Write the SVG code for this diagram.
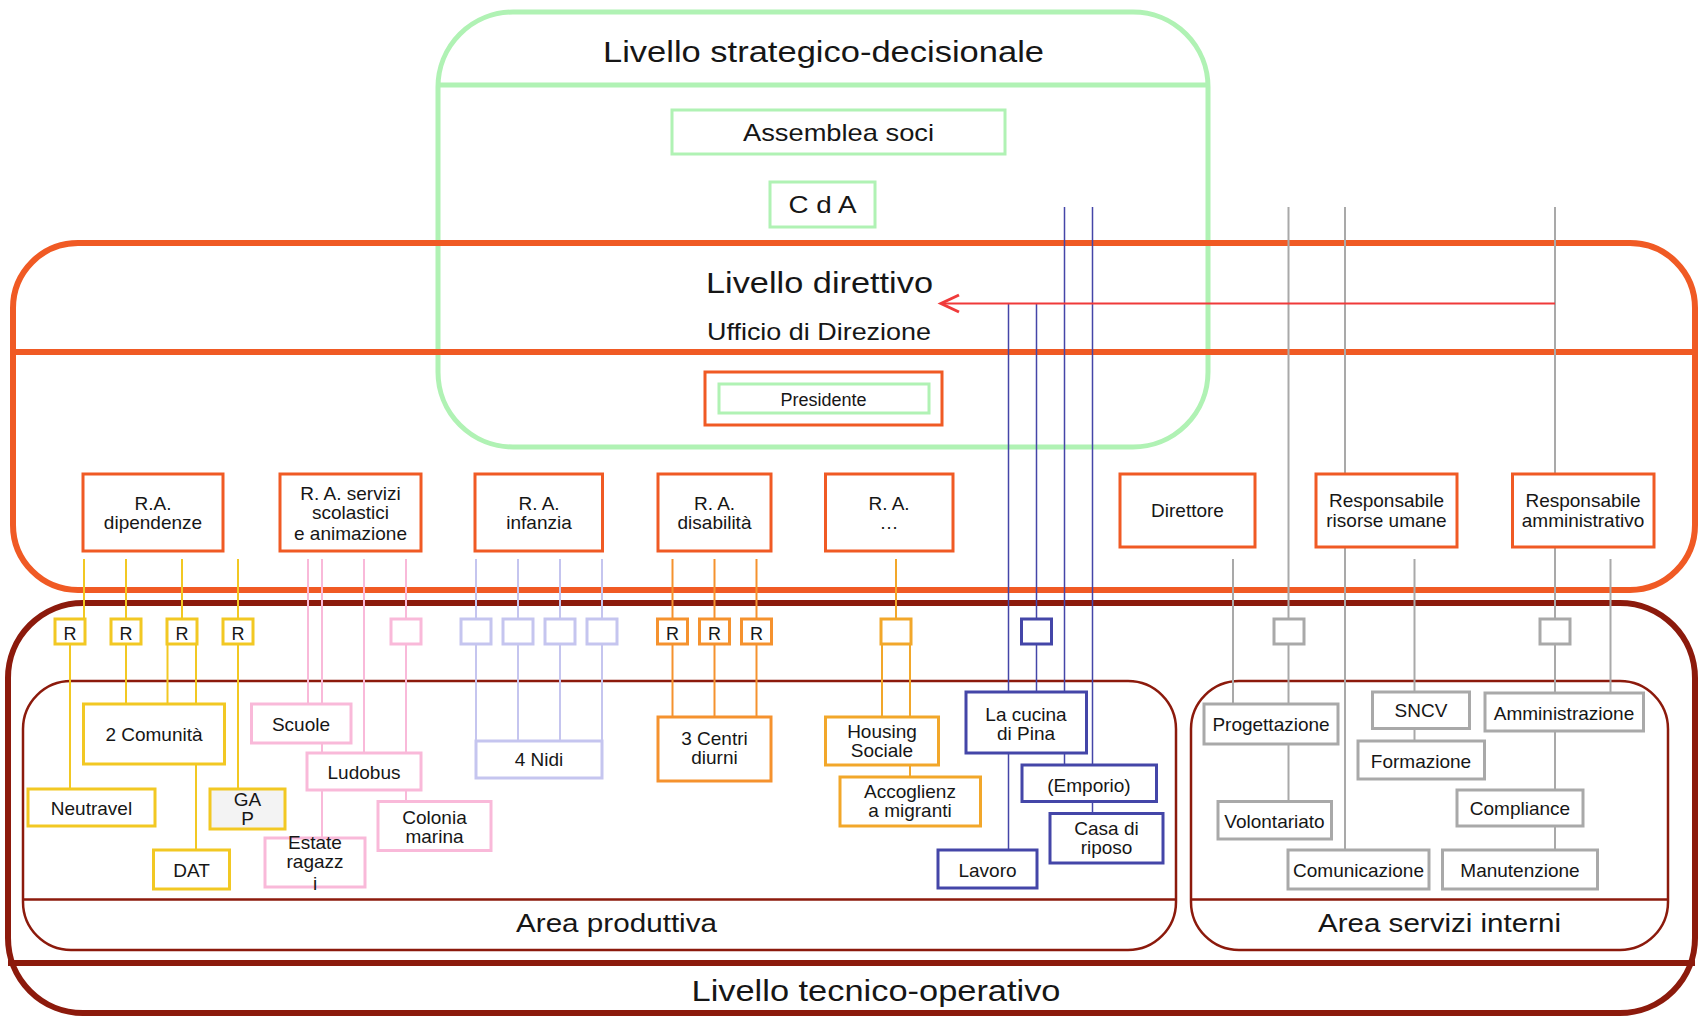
<svg xmlns="http://www.w3.org/2000/svg" width="1700" height="1017" viewBox="0 0 1700 1017">
<style>
.t{font-family:"Liberation Sans",Arial,sans-serif;fill:#161616;text-anchor:middle}
.s{font-size:19px}
.m{font-size:24px}
.l{font-size:30px}
.bx{fill:#fff;stroke-width:3}
.g{stroke:#b0f2b4}
.o{stroke:#f05a24}
.ye{stroke:#f2c823}
.pk{stroke:#f9b9d9}
.lv{stroke:#c5c5ef}
.od{stroke:#f5922e}
.am{stroke:#f2a72a}
.bl{stroke:#4446a8}
.gr{stroke:#a9a9a9}
.cn line{stroke-width:2}
.cn .bl{stroke-width:1.5}
</style>
<defs>
<marker id="chev" markerWidth="24" markerHeight="24" refX="20" refY="12" orient="auto" markerUnits="userSpaceOnUse">
<path d="M2,3.5 L20,12 L2,20.5" fill="none" stroke="#f03a3a" stroke-width="3"/>
</marker>
</defs>
<rect width="1700" height="1017" fill="#fff"/>

<g id="livello-strategico">
<rect x="438" y="12" width="770" height="435" rx="75" fill="none" stroke="#b0f2b4" stroke-width="5"/>
<line x1="438" y1="85" x2="1208" y2="85" stroke="#b0f2b4" stroke-width="5"/>
<text class="t l" x="823.5" y="62" textLength="441" lengthAdjust="spacingAndGlyphs">Livello strategico-decisionale</text>
</g>

<g id="livello-direttivo">
<rect x="13" y="243" width="1682" height="347" rx="65" fill="none" stroke="#f05a24" stroke-width="6"/>
<line x1="13" y1="352" x2="1695" y2="352" stroke="#f05a24" stroke-width="6"/>
<text class="t l" x="819.5" y="293" textLength="227" lengthAdjust="spacingAndGlyphs">Livello direttivo</text>
<text class="t m" x="819" y="340" textLength="224" lengthAdjust="spacingAndGlyphs">Ufficio di Direzione</text>
</g>

<g id="livello-tecnico">
<rect x="8" y="603" width="1687" height="410" rx="75" fill="none" stroke="#8c1a0c" stroke-width="6"/>
<line x1="8" y1="963" x2="1695" y2="963" stroke="#8c1a0c" stroke-width="6"/>
<text class="t l" x="876" y="1000.5" textLength="369" lengthAdjust="spacingAndGlyphs">Livello tecnico-operativo</text>
</g>

<g id="area-produttiva">
<rect x="23" y="681" width="1153" height="269" rx="48" fill="none" stroke="#8c1a0c" stroke-width="2.5"/>
<line x1="23" y1="899.5" x2="1176" y2="899.5" stroke="#8c1a0c" stroke-width="2.5"/>
<text class="t" style="font-size:26px" x="616.5" y="931.5" textLength="201" lengthAdjust="spacingAndGlyphs">Area produttiva</text>
</g>

<g id="area-servizi">
<rect x="1191" y="681" width="477" height="269" rx="48" fill="none" stroke="#8c1a0c" stroke-width="2.5"/>
<line x1="1191" y1="899.5" x2="1668" y2="899.5" stroke="#8c1a0c" stroke-width="2.5"/>
<text class="t" style="font-size:26px" x="1439.5" y="931.5" textLength="243" lengthAdjust="spacingAndGlyphs">Area servizi interni</text>
</g>

<g id="connectors" class="cn">
<line class="ye" x1="84" y1="559" x2="84" y2="619"/>
<line class="ye" x1="70" y1="644" x2="70" y2="789"/>
<line class="ye" x1="126" y1="559" x2="126" y2="619"/>
<line class="ye" x1="126" y1="644" x2="126" y2="704"/>
<line class="ye" x1="182" y1="559" x2="182" y2="619"/>
<line class="ye" x1="167.5" y1="644" x2="167.5" y2="704"/>
<line class="ye" x1="196" y1="644" x2="196" y2="704"/>
<line class="ye" x1="196" y1="764" x2="196" y2="850"/>
<line class="ye" x1="238" y1="559" x2="238" y2="619"/>
<line class="ye" x1="238" y1="644" x2="238" y2="789"/>

<line class="pk" x1="308" y1="559" x2="308" y2="704"/>
<line class="pk" x1="322" y1="559" x2="322" y2="704"/>
<line class="pk" x1="322" y1="743" x2="322" y2="753"/>
<line class="pk" x1="322" y1="790" x2="322" y2="838"/>
<line class="pk" x1="364" y1="559" x2="364" y2="753"/>
<line class="pk" x1="406" y1="559" x2="406" y2="619"/>
<line class="pk" x1="406" y1="644" x2="406" y2="753"/>
<line class="pk" x1="406" y1="790" x2="406" y2="801.5"/>

<line class="lv" x1="476" y1="559" x2="476" y2="619"/>
<line class="lv" x1="476" y1="644" x2="476" y2="741"/>
<line class="lv" x1="518" y1="559" x2="518" y2="619"/>
<line class="lv" x1="518" y1="644" x2="518" y2="741"/>
<line class="lv" x1="560" y1="559" x2="560" y2="619"/>
<line class="lv" x1="560" y1="644" x2="560" y2="741"/>
<line class="lv" x1="602" y1="559" x2="602" y2="619"/>
<line class="lv" x1="602" y1="644" x2="602" y2="741"/>

<line class="od" x1="672.5" y1="559" x2="672.5" y2="619"/>
<line class="od" x1="672.5" y1="644" x2="672.5" y2="717"/>
<line class="od" x1="714.5" y1="559" x2="714.5" y2="619"/>
<line class="od" x1="714.5" y1="644" x2="714.5" y2="717"/>
<line class="od" x1="756.5" y1="559" x2="756.5" y2="619"/>
<line class="od" x1="756.5" y1="644" x2="756.5" y2="717"/>

<line class="am" x1="896" y1="559" x2="896" y2="619"/>
<line class="am" x1="882" y1="644" x2="882" y2="717"/>
<line class="am" x1="910" y1="644" x2="910" y2="717"/>
<line class="am" x1="910" y1="765" x2="910" y2="777"/>

<line class="bl" x1="1008.5" y1="303" x2="1008.5" y2="850"/>
<line class="bl" x1="1036.5" y1="303" x2="1036.5" y2="619"/>
<line class="bl" x1="1036.5" y1="644" x2="1036.5" y2="692"/>
<line class="bl" x1="1064.5" y1="207" x2="1064.5" y2="692"/>
<line class="bl" x1="1064.5" y1="753" x2="1064.5" y2="765"/>
<line class="bl" x1="1092.5" y1="207" x2="1092.5" y2="765"/>
<line class="bl" x1="1092.5" y1="801.5" x2="1092.5" y2="813.5"/>

<line class="gr" x1="1233" y1="559" x2="1233" y2="704"/>
<line class="gr" x1="1288.5" y1="207" x2="1288.5" y2="619"/>
<line class="gr" x1="1288.5" y1="644" x2="1288.5" y2="704"/>
<line class="gr" x1="1288.5" y1="744" x2="1288.5" y2="801.5"/>
<line class="gr" x1="1345" y1="207" x2="1345" y2="850"/>
<line class="gr" x1="1414.5" y1="559" x2="1414.5" y2="692"/>
<line class="gr" x1="1414.5" y1="728.5" x2="1414.5" y2="741"/>
<line class="gr" x1="1555" y1="207" x2="1555" y2="619"/>
<line class="gr" x1="1555" y1="644" x2="1555" y2="693"/>
<line class="gr" x1="1555" y1="731" x2="1555" y2="790"/>
<line class="gr" x1="1555" y1="826" x2="1555" y2="850"/>
<line class="gr" x1="1610.5" y1="559" x2="1610.5" y2="693"/>

<line x1="1555" y1="303.5" x2="941" y2="303.5" stroke="#f03a3a" stroke-width="1.5" marker-end="url(#chev)"/>
</g>

<g id="assemblea-soci"><rect class="bx g" x="672" y="110" width="333" height="44"/><text class="t m" x="838.5" y="141" textLength="191" lengthAdjust="spacingAndGlyphs">Assemblea soci</text></g>
<g id="cda"><rect class="bx g" x="770" y="182" width="105" height="45"/><text class="t m" x="822.5" y="213" textLength="68" lengthAdjust="spacingAndGlyphs">C d A</text></g>
<g id="presidente"><rect class="bx o" x="705" y="372" width="237" height="53"/><rect class="bx g" x="719" y="384" width="210" height="29"/><text class="t" style="font-size:18px" x="823.5" y="405.5">Presidente</text></g>

<g id="ra-dipendenze"><rect class="bx o" x="83" y="474" width="140" height="77"/><text class="t s" x="153" y="509.5">R.A.</text><text class="t s" x="153" y="529">dipendenze</text></g>
<g id="ra-servizi"><rect class="bx o" x="280" y="474" width="141" height="77"/><text class="t s" x="350.5" y="499.5">R. A. servizi</text><text class="t s" x="350.5" y="519">scolastici</text><text class="t s" x="350.5" y="540">e animazione</text></g>
<g id="ra-infanzia"><rect class="bx o" x="475" y="474" width="127.5" height="77"/><text class="t s" x="539" y="509.5">R. A.</text><text class="t s" x="539" y="528.5">infanzia</text></g>
<g id="ra-disabilita"><rect class="bx o" x="658" y="474" width="113" height="77"/><text class="t s" x="714.5" y="509.5">R. A.</text><text class="t s" x="714.5" y="529">disabilità</text></g>
<g id="ra-altro"><rect class="bx o" x="825.5" y="474" width="127.5" height="77"/><text class="t s" x="889" y="509.5">R. A.</text><text class="t s" x="889" y="529">…</text></g>
<g id="direttore"><rect class="bx o" x="1120" y="474" width="135" height="73"/><text class="t s" x="1187.5" y="517">Direttore</text></g>
<g id="resp-risorse-umane"><rect class="bx o" x="1316" y="474" width="141" height="73"/><text class="t s" x="1386.5" y="507">Responsabile</text><text class="t s" x="1386.5" y="526.5">risorse umane</text></g>
<g id="resp-amministrativo"><rect class="bx o" x="1512.5" y="474" width="141.5" height="73"/><text class="t s" x="1583" y="507">Responsabile</text><text class="t s" x="1583" y="526.5">amministrativo</text></g>

<g id="r-dip-1"><rect class="bx ye" x="55" y="619" width="30" height="25"/><text class="t" style="font-size:18px" x="70" y="640">R</text></g>
<g id="r-dip-2"><rect class="bx ye" x="111" y="619" width="30" height="25"/><text class="t" style="font-size:18px" x="126" y="640">R</text></g>
<g id="r-dip-3"><rect class="bx ye" x="167" y="619" width="30" height="25"/><text class="t" style="font-size:18px" x="182" y="640">R</text></g>
<g id="r-dip-4"><rect class="bx ye" x="223" y="619" width="30" height="25"/><text class="t" style="font-size:18px" x="238" y="640">R</text></g>
<g id="comunita"><rect class="bx ye" x="83.5" y="704" width="141" height="60"/><text class="t s" x="154" y="741">2 Comunità</text></g>
<g id="neutravel"><rect class="bx ye" x="28" y="789" width="127" height="37"/><text class="t s" x="91.5" y="815">Neutravel</text></g>
<g id="gap"><rect class="bx ye" x="210" y="789" width="75" height="40" style="fill:#f3f3f3"/><text class="t s" x="247.5" y="806">GA</text><text class="t s" x="247.5" y="825">P</text></g>
<g id="dat"><rect class="bx ye" x="153.5" y="850" width="76" height="39"/><text class="t s" x="191.5" y="877">DAT</text></g>

<g id="box-servizi"><rect class="bx pk" x="391" y="619" width="30" height="25"/></g>
<g id="scuole"><rect class="bx pk" x="251.5" y="704" width="99.5" height="39"/><text class="t s" x="301" y="731">Scuole</text></g>
<g id="ludobus"><rect class="bx pk" x="307" y="753" width="114" height="37"/><text class="t s" x="364" y="779">Ludobus</text></g>
<g id="colonia-marina"><rect class="bx pk" x="378" y="801.5" width="113" height="49"/><text class="t s" x="434.5" y="823.5">Colonia</text><text class="t s" x="434.5" y="843">marina</text></g>
<g id="estate-ragazzi"><rect class="bx pk" x="265" y="838" width="100" height="49"/><text class="t s" x="315" y="848.5">Estate</text><text class="t s" x="315" y="868">ragazz</text><text class="t s" x="315" y="889.5">i</text></g>

<g id="box-inf-1"><rect class="bx lv" x="461" y="619" width="30" height="25"/></g>
<g id="box-inf-2"><rect class="bx lv" x="503" y="619" width="30" height="25"/></g>
<g id="box-inf-3"><rect class="bx lv" x="545" y="619" width="30" height="25"/></g>
<g id="box-inf-4"><rect class="bx lv" x="587" y="619" width="30" height="25"/></g>
<g id="nidi"><rect class="bx lv" x="476" y="741" width="126" height="37"/><text class="t s" x="539" y="766">4 Nidi</text></g>

<g id="r-dis-1"><rect class="bx od" x="657.5" y="619" width="30" height="25"/><text class="t" style="font-size:18px" x="672.5" y="640">R</text></g>
<g id="r-dis-2"><rect class="bx od" x="699.5" y="619" width="30" height="25"/><text class="t" style="font-size:18px" x="714.5" y="640">R</text></g>
<g id="r-dis-3"><rect class="bx od" x="741.5" y="619" width="30" height="25"/><text class="t" style="font-size:18px" x="756.5" y="640">R</text></g>
<g id="centri-diurni"><rect class="bx od" x="658" y="717" width="113" height="64"/><text class="t s" x="714.5" y="745">3 Centri</text><text class="t s" x="714.5" y="764">diurni</text></g>

<g id="box-altro"><rect class="bx am" x="881" y="619" width="30" height="25"/></g>
<g id="housing-sociale"><rect class="bx am" x="825.5" y="717" width="113" height="48"/><text class="t s" x="882" y="737.5">Housing</text><text class="t s" x="882" y="757">Sociale</text></g>
<g id="accoglienza-migranti"><rect class="bx am" x="840" y="777" width="140.5" height="49"/><text class="t s" x="910" y="798">Accoglienz</text><text class="t s" x="910" y="817">a migranti</text></g>

<g id="box-cucina"><rect class="bx bl" x="1021.5" y="619" width="30" height="25"/></g>
<g id="cucina-pina"><rect class="bx bl" x="966" y="692" width="120.5" height="61"/><text class="t s" x="1026" y="720.5">La cucina</text><text class="t s" x="1026" y="739.5">di Pina</text></g>
<g id="emporio"><rect class="bx bl" x="1022" y="765" width="134.5" height="36.5"/><text class="t s" x="1089" y="792">(Emporio)</text></g>
<g id="casa-riposo"><rect class="bx bl" x="1050" y="813.5" width="113" height="49.5"/><text class="t s" x="1106.5" y="835">Casa di</text><text class="t s" x="1106.5" y="854">riposo</text></g>
<g id="lavoro"><rect class="bx bl" x="938" y="850" width="99" height="38"/><text class="t s" x="987.5" y="877">Lavoro</text></g>

<g id="box-prog"><rect class="bx gr" x="1274" y="619" width="30" height="25"/></g>
<g id="box-amm"><rect class="bx gr" x="1540" y="619" width="30" height="25"/></g>
<g id="progettazione"><rect class="bx gr" x="1204" y="704" width="134" height="40"/><text class="t s" x="1271" y="731">Progettazione</text></g>
<g id="volontariato"><rect class="bx gr" x="1218" y="801.5" width="113.5" height="37.5"/><text class="t s" x="1274.5" y="828">Volontariato</text></g>
<g id="comunicazione"><rect class="bx gr" x="1288" y="850" width="141" height="39"/><text class="t s" x="1358.5" y="877">Comunicazione</text></g>
<g id="sncv"><rect class="bx gr" x="1372.5" y="692" width="97" height="36.5"/><text class="t s" x="1421" y="717">SNCV</text></g>
<g id="formazione"><rect class="bx gr" x="1358" y="741" width="126.5" height="38"/><text class="t s" x="1421" y="767.5">Formazione</text></g>
<g id="amministrazione"><rect class="bx gr" x="1485" y="693" width="158.5" height="38"/><text class="t s" x="1564" y="719.5">Amministrazione</text></g>
<g id="compliance"><rect class="bx gr" x="1457" y="790" width="126" height="36"/><text class="t s" x="1520" y="814.5">Compliance</text></g>
<g id="manutenzione"><rect class="bx gr" x="1442.5" y="850" width="155" height="39"/><text class="t s" x="1520" y="877">Manutenzione</text></g>
</svg>
